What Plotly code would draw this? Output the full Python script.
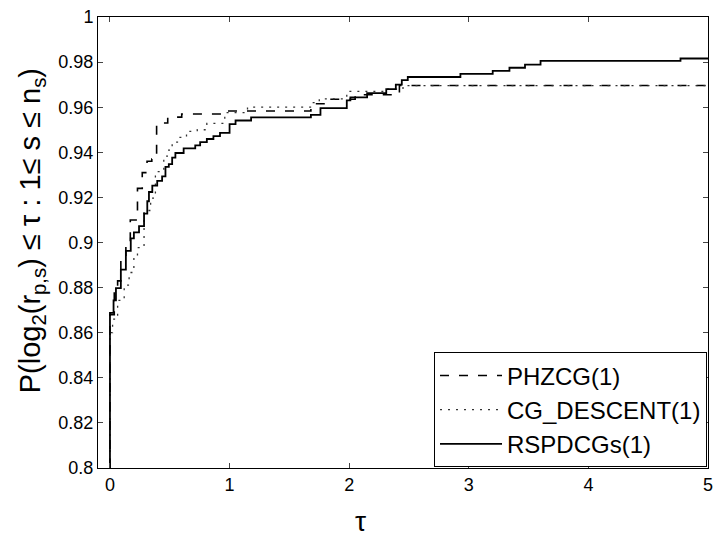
import plotly.graph_objects as go

# PHZCG(1)
phz_x = [0, 0, 0.036, 0.064, 0.091, 0.133, 0.17, 0.23, 0.27, 0.31, 0.35, 0.39, 0.483, 0.60, 0.95, 1.68, 1.80, 2.05, 2.42, 5.0]
phz_y = [0.80, 0.868, 0.878, 0.883, 0.892, 0.900, 0.910, 0.924, 0.931, 0.936, 0.937, 0.953, 0.9556, 0.957, 0.9583, 0.9615, 0.9635, 0.9655, 0.9696, 0.9696]

# CG_DESCENT(1)
cgd_x = [0, 0, 0.022, 0.064, 0.119, 0.16, 0.20, 0.23, 0.285, 0.34, 0.38, 0.45, 0.48, 0.52, 0.575, 0.64, 0.73, 0.81, 0.96, 1.15, 1.70, 1.75, 1.98, 2.30, 2.45, 5.0]
cgd_y = [0.80, 0.860, 0.866, 0.8743, 0.8811, 0.8867, 0.8935, 0.8977, 0.9142, 0.9197, 0.9314, 0.9383, 0.941, 0.9445, 0.9466, 0.9493, 0.950, 0.9528, 0.9576, 0.960, 0.962, 0.9637, 0.967, 0.968, 0.9696, 0.9696]

# RSPDCGs(1)
rsp_x = [0, 0, 0.03, 0.05, 0.091, 0.133, 0.174, 0.20, 0.243, 0.285, 0.312, 0.326, 0.354, 0.395, 0.436, 0.464, 0.492, 0.52, 0.547, 0.616, 0.713, 0.754, 0.81, 0.865, 0.92, 1.00, 1.05, 1.18, 1.68, 1.76, 1.98, 2.01, 2.15, 2.31, 2.39, 2.44, 2.49, 2.93, 3.20, 3.34, 3.47, 3.60, 4.77, 5.0]
rsp_y = [0.80, 0.8688, 0.8743, 0.8798, 0.888, 0.8963, 0.9018, 0.9045, 0.9073, 0.9128, 0.9183, 0.9224, 0.9252, 0.9273, 0.9293, 0.9335, 0.9348, 0.9376, 0.9397, 0.9417, 0.9431, 0.9445, 0.9459, 0.9472, 0.9486, 0.9525, 0.9541, 0.9555, 0.9566, 0.9596, 0.963, 0.9644, 0.9662, 0.968, 0.970, 0.972, 0.9734, 0.9748, 0.9761, 0.9775, 0.9789, 0.9805, 0.9816, 0.9816]

x_ticks = [0, 1, 2, 3, 4, 5]
y_ticks = [0.8, 0.82, 0.84, 0.86, 0.88, 0.9, 0.92, 0.94, 0.96, 0.98, 1.0]
y_tick_labels = ["0.8", "0.82", "0.84", "0.86", "0.88", "0.9", "0.92", "0.94", "0.96", "0.98", "1"]

x_title = "τ"
y_title = "P(log<sub>2</sub>(r<sub>p,s</sub>) ≤ τ : 1≤ s ≤ n<sub>s</sub>)"

FONT = "Liberation Sans, Arial, sans-serif"

L, R, T, B = 98, 7, 10, 88
W, H = 720, 556
pw, ph = W - L - R, H - T - B

fig = go.Figure()
fig.add_trace(go.Scatter(x=phz_x, y=phz_y, mode="lines", name="PHZCG(1)", line_shape="hv",
                         line=dict(color="black", width=1.6, dash="9px,10px")))
fig.add_trace(go.Scatter(x=cgd_x, y=cgd_y, mode="lines", name="CG_DESCENT(1)", line_shape="hv",
                         line=dict(color="#333333", width=1.3, dash="2px,6px")))
fig.add_trace(go.Scatter(x=rsp_x, y=rsp_y, mode="lines", name="RSPDCGs(1)", line_shape="hv",
                         line=dict(color="black", width=1.8)))

fig.update_layout(
    width=W, height=H,
    margin=dict(l=L, r=R, t=T, b=B),
    paper_bgcolor="white", plot_bgcolor="white",
    font=dict(family=FONT, color="black"),
    showlegend=True,
    legend=dict(x=(712 - L) / pw, y=(468 - 409) / ph, xanchor="right", yanchor="middle",
                bgcolor="white", bordercolor="black", borderwidth=1,
                font=dict(size=24, family=FONT), itemwidth=62, tracegroupgap=0),
    annotations=[
        dict(text=y_title, xref="paper", yref="paper", x=(31 - L) / pw, y=(468 - 227) / ph,
             xanchor="center", yanchor="middle", textangle=-90, showarrow=False,
             font=dict(size=29, family=FONT)),
        dict(text=x_title, xref="paper", yref="paper", x=(363 - L) / pw, y=-(522 - 468) / ph,
             xanchor="center", yanchor="middle", showarrow=False,
             font=dict(size=28, family=FONT)),
    ],
)
fig.update_xaxes(range=[-0.1, 5], tickvals=x_ticks, ticks="inside", ticklen=5,
                 showline=True, linecolor="black", linewidth=1, mirror="ticks",
                 showgrid=False, zeroline=False, tickfont=dict(size=18),
                 ticklabeloverflow="allow")
fig.update_yaxes(range=[0.8, 1.0], tickvals=y_ticks, ticktext=y_tick_labels, ticks="inside", ticklen=5,
                 showline=True, linecolor="black", linewidth=1, mirror="ticks",
                 showgrid=False, zeroline=False, tickfont=dict(size=18),
                 ticklabeloverflow="allow")

fig.write_html("out.html", config={"displayModeBar": False},
               post_script="document.body.style.margin='0px';document.body.style.overflow='hidden';")
